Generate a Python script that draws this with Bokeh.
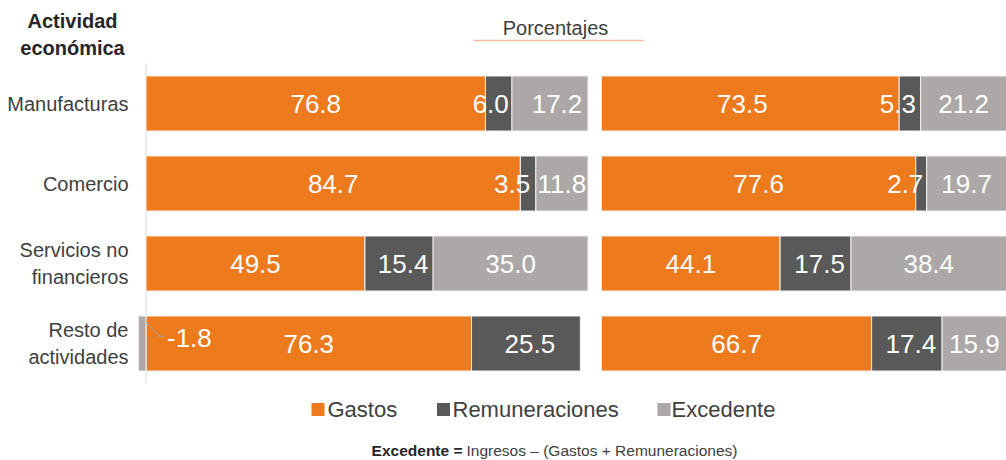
from bokeh.plotting import figure
from bokeh.models import Range1d, ColumnDataSource
from bokeh.core.properties import value
from bokeh.embed import file_html
from bokeh.resources import INLINE

# ---------------- data ----------------
categories = ["Manufacturas", "Comercio", "Servicios no\nfinancieros", "Resto de\nactividades"]
series_names = ["Gastos", "Remuneraciones", "Excedente"]

left_gastos = [76.8, 84.7, 49.5, 76.3]
left_remun = [6.0, 3.5, 15.4, 25.5]
left_exced = [17.2, 11.8, 35.0, -1.8]

right_gastos = [73.5, 77.6, 44.1, 66.7]
right_remun = [5.3, 2.7, 17.5, 17.4]
right_exced = [21.2, 19.7, 38.4, 15.9]

header_left = "Actividad\necon\u00f3mica"
header_right = "Porcentajes"
footnote_bold = "Excedente ="
footnote_rest = "Ingresos \u2013 (Gastos + Remuneraciones)"

# ---------------- style ----------------
COLORS = ["#EE7A1E", "#595959", "#ABA8A7"]
FONT = "Liberation Sans"
TXT = "#404040"

W, H = 1006, 460
OX, OY = 0, 0              # page offset of the canvas
L0, LSCALE = 145.5, 4.42   # left panel: page x of zero, px per unit
R0, RSCALE = 601.0, 4.05   # right panel
Y0, YSCALE = 383.0, 80.0   # page y of row-axis zero, px per row
BAR_H = 0.6875
VAL_SIZE = "26px"

# per-label horizontal nudges (px) for small segments
left_dx = [[0, -8, 7], [0, -16, 0], [0, 4, 0], [0, 4, 0]]
right_dx = [[-8, -12, 0], [0, -16, 0], [0, 4, 0], [0, 4, 0]]

p = figure(width=W, height=H, output_backend="svg", toolbar_location=None,
           x_range=Range1d((OX - L0) / LSCALE, (OX + W - L0) / LSCALE),
           y_range=Range1d((Y0 - OY - H) / YSCALE, (Y0 - OY) / YSCALE),
           x_axis_location=None, y_axis_location=None,
           min_border=0, min_border_left=0, min_border_right=0,
           min_border_top=0, min_border_bottom=0)
p.extra_x_ranges = {"right": Range1d((OX - R0) / RSCALE, (OX + W - R0) / RSCALE),
                    "page": Range1d(OX, OX + W)}
p.extra_y_ranges = {"page": Range1d(OY + H, OY)}
p.grid.visible = False
p.outline_line_color = None
p.background_fill_color = "white"
p.border_fill_color = "white"

n = len(categories)
ys = [n - 0.5 - i for i in range(n)]

# left axis line
p.segment(x0=[0], y0=[0], x1=[0], y1=[n], line_color="#D9D9D9", line_width=1)


def panel(gastos, remun, exced, range_name, dxs):
    bars = {k: dict(y=[], left=[], right=[]) for k in range(3)}
    labs = {k: dict(y=[], x=[], text=[], dx=[]) for k in range(3)}
    neg = dict(x=[], y=[], text=[])
    for i in range(n):
        vals = [gastos[i], remun[i], exced[i]]
        norm = 100.0 / sum(abs(v) for v in vals)
        pos = 0.0
        for k, v in enumerate(vals):
            w = v * norm
            if w >= 0:
                l, r = pos, pos + w
                pos += w
            else:
                l, r = w, 0.0
            bars[k]["y"].append(ys[i])
            bars[k]["left"].append(l)
            bars[k]["right"].append(r)
            if v >= 0:
                labs[k]["y"].append(ys[i])
                labs[k]["x"].append((l + r) / 2)
                labs[k]["text"].append(f"{v:.1f}")
                labs[k]["dx"].append(dxs[i][k])
            else:
                neg["x"].append(r)
                neg["y"].append(ys[i])
                neg["text"].append(f"{v:.1f}")
    for k in range(3):
        p.hbar(y="y", left="left", right="right", height=BAR_H,
               source=ColumnDataSource(bars[k]),
               fill_color=COLORS[k], line_color="#F2F2F2", line_width=1,
               x_range_name=range_name)
    for k in range(3):
        p.text(x="x", y="y", text="text", x_offset="dx", source=ColumnDataSource(labs[k]),
               text_align="center", text_baseline="middle", text_color="white",
               text_font=value(FONT), text_font_size=VAL_SIZE,
               x_range_name=range_name)
    if neg["y"]:
        p.text(x="x", y="y", text="text", source=ColumnDataSource(neg),
               x_offset=21, y_offset=-6,
               text_align="left", text_baseline="middle", text_color="white",
               text_font=value(FONT), text_font_size=VAL_SIZE,
               x_range_name=range_name)
        for xx, yy in zip(neg["x"], neg["y"]):
            p.line(x=[xx, xx + 3.0, xx + 4.0], y=[yy + 0.27, yy + 0.09, yy + 0.09],
                   line_color="#A6A6A6", line_width=1, x_range_name=range_name)


panel(left_gastos, left_remun, left_exced, "default", left_dx)
panel(right_gastos, right_remun, right_exced, "right", right_dx)

# category labels
p.text(x=[128] * n, y=ys, text=categories, x_range_name="page",
       text_align="right", text_baseline="middle", text_color=TXT,
       text_font=value(FONT), text_font_size="20px", text_line_height=1.2)

# headers
p.text(x=[72], y=[34], text=[header_left], x_range_name="page", y_range_name="page",
       text_align="center", text_baseline="middle", text_color="#262626",
       text_font=value(FONT), text_font_size="20px", text_font_style="bold",
       text_line_height=1.2)
p.text(x=[555], y=[27], text=[header_right], x_range_name="page", y_range_name="page",
       text_align="center", text_baseline="middle", text_color=TXT,
       text_font=value(FONT), text_font_size="20px")
p.line(x=[473, 643], y=[40, 40], x_range_name="page", y_range_name="page",
       line_color="#F5BBA3", line_width=1.5)

# legend
leg_sq_x = [317.5, 443, 663.5]
leg_tx_x = [327, 452, 671]
LEG_Y = 409
for k in range(3):
    p.scatter(x=[leg_sq_x[k]], y=[LEG_Y], marker="square", size=13,
              fill_color=COLORS[k], line_color=None,
              x_range_name="page", y_range_name="page")
p.text(x=leg_tx_x, y=[LEG_Y] * 3, text=series_names, x_range_name="page", y_range_name="page",
       text_align="left", text_baseline="middle", text_color=TXT,
       text_font=value(FONT), text_font_size="22px")

# footnote
p.text(x=[462], y=[450], text=[footnote_bold], x_range_name="page", y_range_name="page",
       text_align="right", text_baseline="middle", text_color="#262626",
       text_font=value(FONT), text_font_size="15.5px", text_font_style="bold")
p.text(x=[466], y=[450], text=[footnote_rest], x_range_name="page", y_range_name="page",
       text_align="left", text_baseline="middle", text_color=TXT,
       text_font=value(FONT), text_font_size="15.5px")

open("out.html", "w").write(file_html(p, INLINE))
